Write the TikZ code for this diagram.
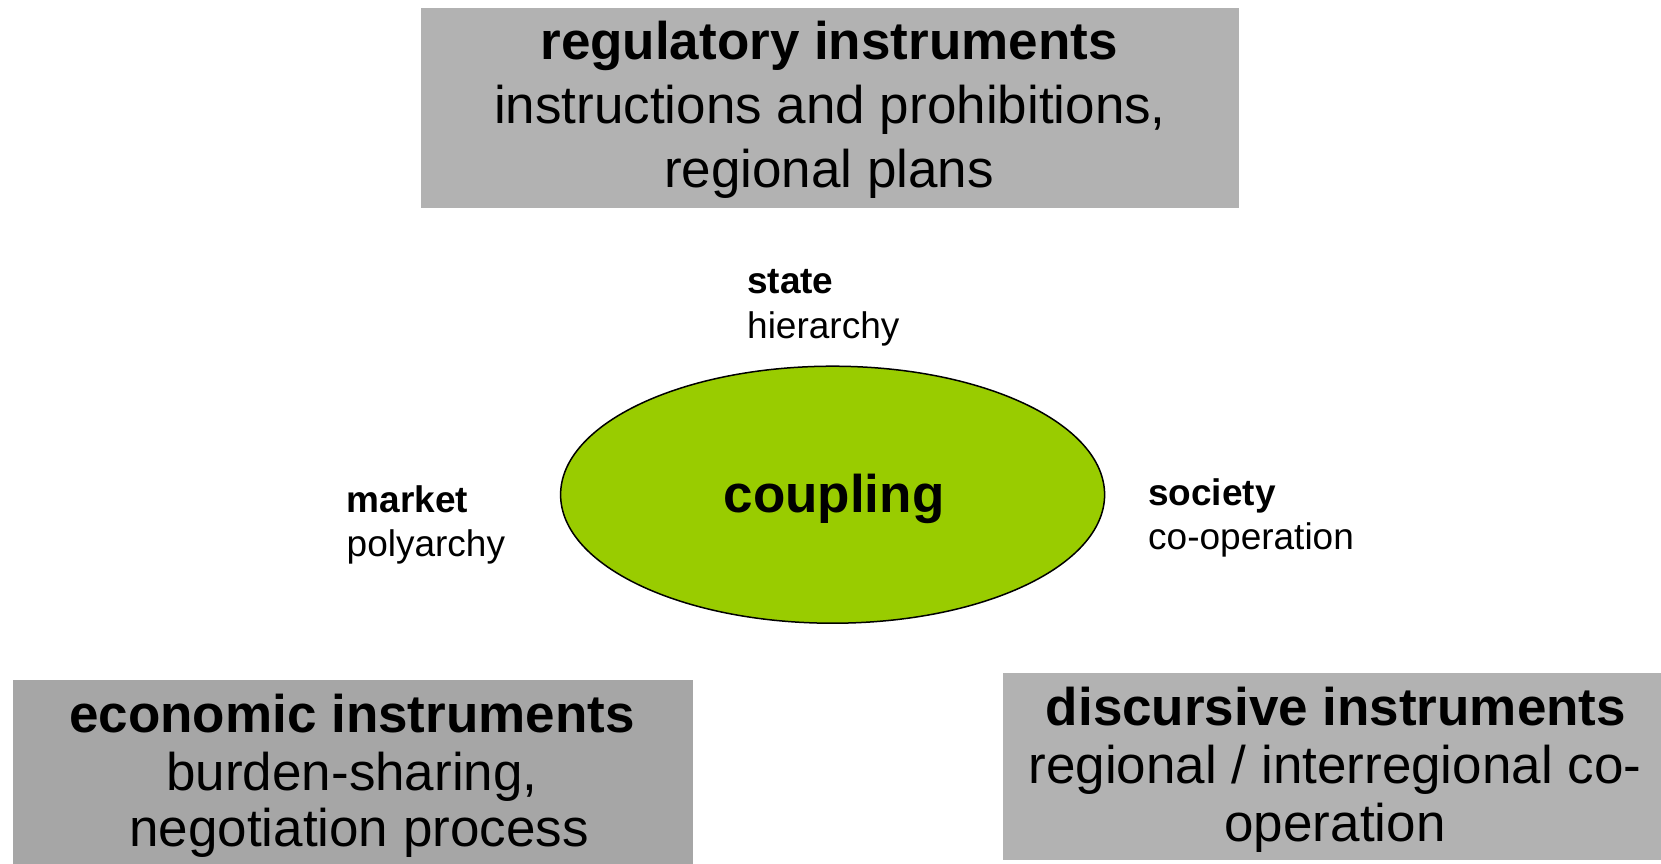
\documentclass[tikz,border=0pt]{standalone}
\usepackage{fontspec}
\setmainfont{Liberation Sans}
\usetikzlibrary{shapes.geometric}
\definecolor{boxA}{HTML}{B2B2B2}
\definecolor{boxB}{HTML}{A6A6A6}
\definecolor{lime}{HTML}{99CC00}
\tikzset{
  greybox/.style={draw=none, rectangle, inner sep=0pt, anchor=north west},
  bigline/.style={anchor=base, inner sep=0pt, font=\fontsize{53pt}{63pt}\selectfont},
  bigbold/.style={bigline, font=\fontsize{53pt}{63pt}\selectfont\bfseries},
  smallline/.style={anchor=base west, inner sep=0pt, font=\fontsize{37pt}{44pt}\selectfont},
  smallbold/.style={smallline, font=\fontsize{37pt}{44pt}\selectfont\bfseries},
}
\begin{document}
\begin{tikzpicture}[x=1pt, y=-1pt]
\useasboundingbox (0,0) rectangle (1661,863);
% boxes
\node[greybox, fill=boxA, minimum width=818pt, minimum height=200pt] (reg) at (420.5,7.5) {};
\node[greybox, fill=boxB, minimum width=680pt, minimum height=190pt] (eco) at (12.5,679.5) {};
\node[greybox, fill=boxA, minimum width=660pt, minimum height=187.5pt] (dis) at (1002.5,672.5) {};
% regulatory
\node[bigbold] (r1) at (829,59.3) {regulatory instruments};
\node[bigline] (r2) at (830,123.4) {instructions and prohibitions,};
\node[bigline] (r3) at (829,187) {regional plans};
% economic
\node[bigbold] (e1) at (352,732.5) {economic instruments};
\node[bigline] (e2) at (352,790.5) {burden-sharing,};
\node[bigline] (e3) at (359,846) {negotiation process};
% discursive
\node[bigbold] (d1) at (1336,725) {discursive instruments};
\node[bigline] (d2) at (1335,783.3) {regional / interregional co-};
\node[bigline] (d3) at (1335,841) {operation};
% ellipse
\node[ellipse, draw=black, line width=1.5pt, fill=lime, minimum width=544pt, minimum height=257pt, inner sep=0pt] (coup) at (832.6,494.7) {};
\node[bigbold] (ct) at (834,512) {coupling};
% small labels
\node[smallbold] (s1) at (747,293.5) {state};
\node[smallline] (s2) at (747,338) {hierarchy};
\node[smallbold] (m1) at (346.5,512.5) {market};
\node[smallline] (m2) at (346.5,556.5) {polyarchy};
\node[smallbold] (o1) at (1148,505.5) {society};
\node[smallline] (o2) at (1148,549) {co-operation};
\end{tikzpicture}
\end{document}
